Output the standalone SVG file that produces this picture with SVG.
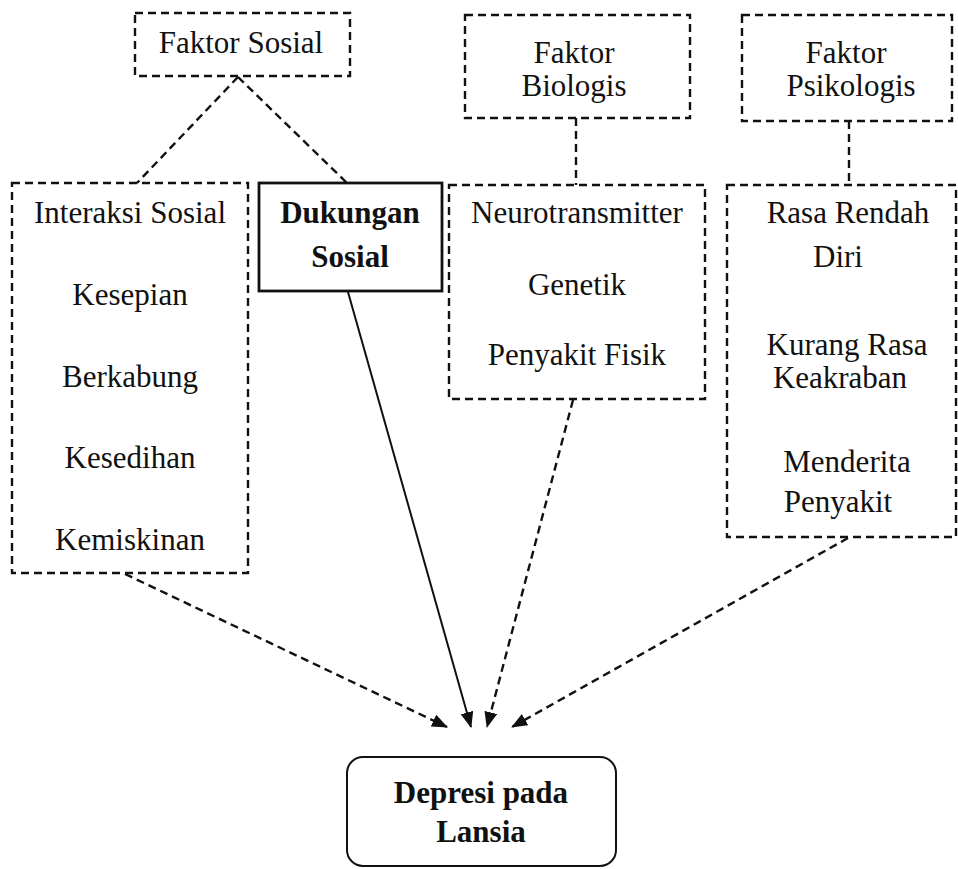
<svg xmlns="http://www.w3.org/2000/svg" width="958" height="869" viewBox="0 0 958 869">
<defs>
<style>
.t{font-family:'Liberation Serif','Tinos','Times New Roman','DejaVu Serif',serif;font-size:31px;fill:#111;text-anchor:middle}
.b{font-weight:bold}
.dbox{fill:none;stroke:#111;stroke-width:2.4;stroke-dasharray:8 5}
.sbox{fill:none;stroke:#111;stroke-width:2.8}
.dl{fill:none;stroke:#111;stroke-width:2.4;stroke-dasharray:8 5}
.sl{fill:none;stroke:#111;stroke-width:2}
</style>
<marker id="ah" viewBox="0 0 16 13" refX="15" refY="6.5" markerWidth="16" markerHeight="13" markerUnits="userSpaceOnUse" orient="auto">
<path d="M0,0 L16,6.5 L0,13 z" fill="#111"/>
</marker>
</defs>
<rect width="958" height="869" fill="#fff"/>

<g id="connectors">
<line class="dl" x1="238" y1="77" x2="137" y2="183"/>
<line class="dl" x1="238" y1="77" x2="347" y2="183"/>
<line class="dl" x1="576" y1="118" x2="576" y2="185"/>
<line class="dl" x1="849" y1="121" x2="849" y2="185"/>
<line class="dl" x1="125" y1="574" x2="447" y2="727" marker-end="url(#ah)"/>
<line class="sl" x1="348" y1="292" x2="471" y2="727" marker-end="url(#ah)"/>
<line class="dl" x1="573" y1="400" x2="487" y2="727" marker-end="url(#ah)"/>
<line class="dl" x1="848" y1="538" x2="512" y2="727" marker-end="url(#ah)"/>
</g>

<g id="faktor-sosial">
<rect class="dbox" x="135" y="13" width="215" height="63"/>
<text class="t" x="241" y="53">Faktor Sosial</text>
</g>

<g id="faktor-biologis">
<rect class="dbox" x="465" y="15" width="225" height="103"/>
<text class="t" x="574" y="63">Faktor</text>
<text class="t" x="574" y="96">Biologis</text>
</g>

<g id="faktor-psikologis">
<rect class="dbox" x="742" y="15" width="210" height="106"/>
<text class="t" x="846" y="63">Faktor</text>
<text class="t" x="851" y="96">Psikologis</text>
</g>

<g id="sosial-items">
<rect class="dbox" x="12" y="183" width="236" height="390"/>
<text class="t" x="130" y="223">Interaksi Sosial</text>
<text class="t" x="130" y="305">Kesepian</text>
<text class="t" x="130" y="387">Berkabung</text>
<text class="t" x="130" y="468">Kesedihan</text>
<text class="t" x="130" y="550">Kemiskinan</text>
</g>

<g id="dukungan-sosial">
<rect class="sbox" x="259" y="183" width="183" height="108"/>
<text class="t b" x="350" y="223">Dukungan</text>
<text class="t b" x="350" y="267">Sosial</text>
</g>

<g id="biologis-items">
<rect class="dbox" x="449" y="185" width="256" height="214"/>
<text class="t" x="577" y="223">Neurotransmitter</text>
<text class="t" x="577" y="295">Genetik</text>
<text class="t" x="577" y="365">Penyakit Fisik</text>
</g>

<g id="psikologis-items">
<rect class="dbox" x="727" y="185" width="229" height="352"/>
<text class="t" x="848" y="223">Rasa Rendah</text>
<text class="t" x="838" y="267">Diri</text>
<text class="t" x="847" y="355">Kurang Rasa</text>
<text class="t" x="840" y="388">Keakraban</text>
<text class="t" x="847" y="472">Menderita</text>
<text class="t" x="838" y="512">Penyakit</text>
</g>

<g id="depresi">
<rect x="347" y="757" width="269" height="109" rx="16" ry="16" fill="none" stroke="#111" stroke-width="2"/>
<text class="t b" x="481" y="803">Depresi pada</text>
<text class="t b" x="481" y="842">Lansia</text>
</g>
</svg>
